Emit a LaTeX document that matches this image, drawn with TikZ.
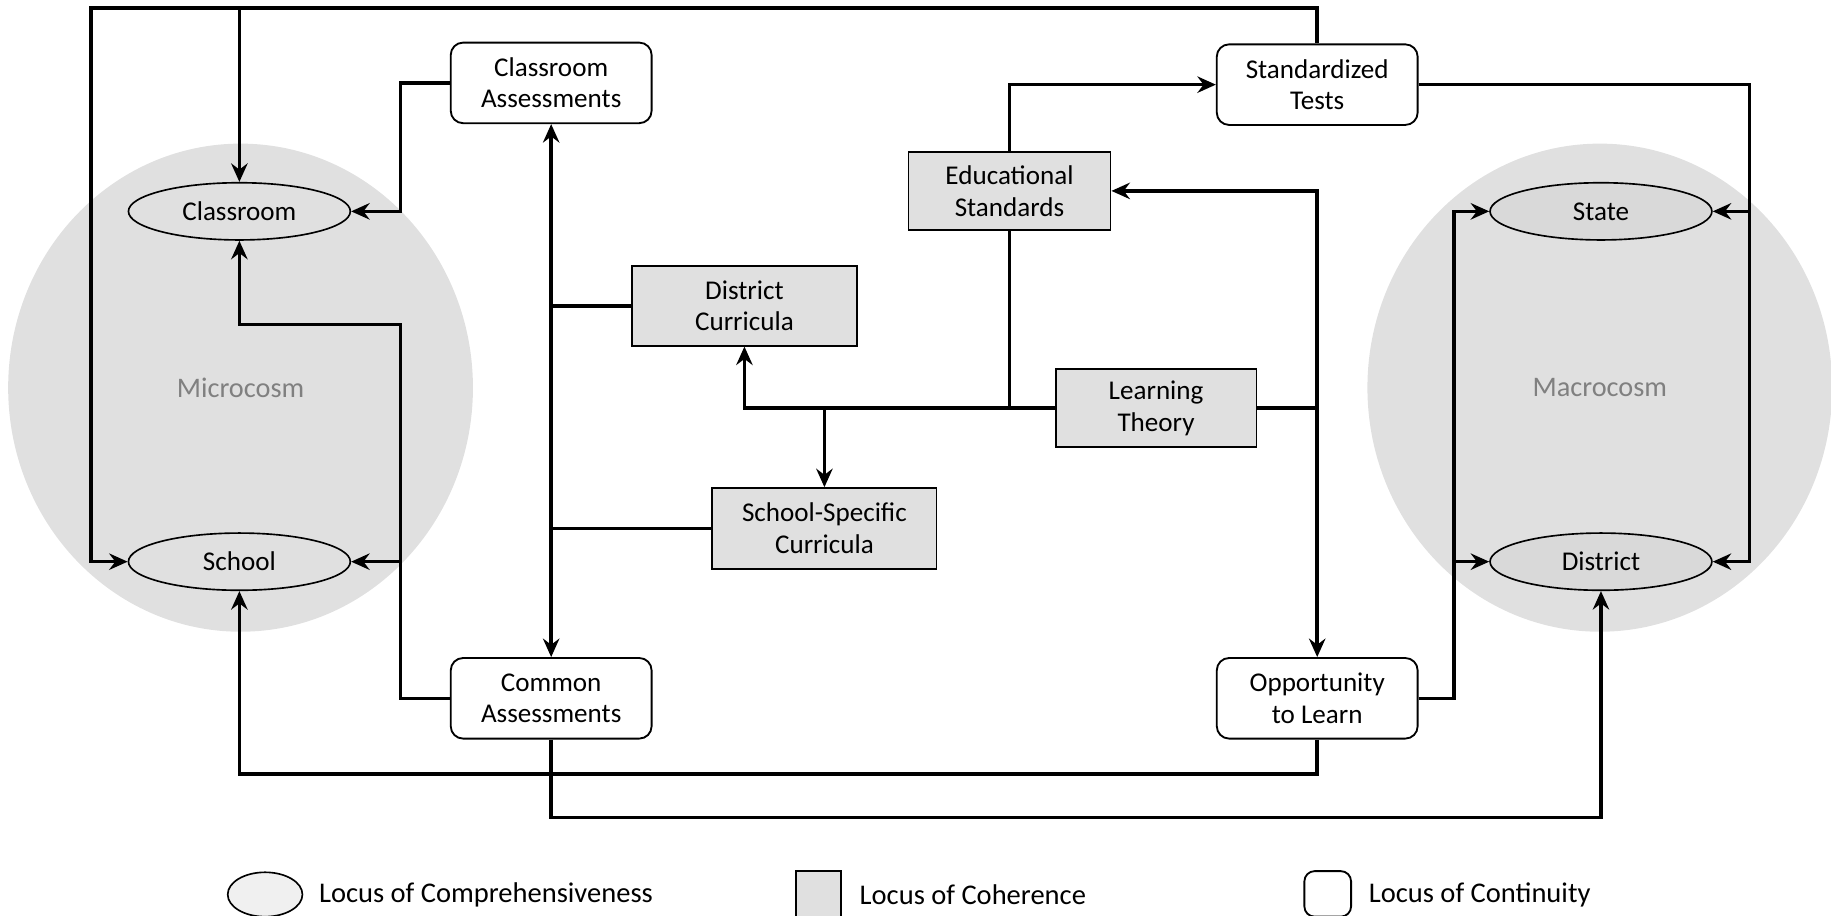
\documentclass[tikz,border=0pt]{standalone}
\usepackage{fontspec}
\setmainfont{Carlito}
\usetikzlibrary{arrows.meta,shapes.geometric}

\definecolor{cosmgray}{HTML}{E0E0E0}
\definecolor{locgray}{HTML}{D9D9D9}
\definecolor{boxgray}{HTML}{E0E0E0}
\definecolor{leggray}{HTML}{F0F0F0}

\begin{document}
\begin{tikzpicture}[
	every node/.style={font=\fontsize{13.2}{15.4}\selectfont, align=center},
	locus/.style={draw, ellipse, line width=0.8pt, minimum width=3.8cm, minimum height=0.98cm, inner sep=0pt},
	cohere/.style={draw, fill=boxgray, line width=0.9pt, inner sep=0pt},
	contin/.style={draw, fill=white, rounded corners=6pt, line width=0.9pt, minimum width=3.44cm, minimum height=1.38cm, inner sep=0pt},
	conn/.style={line width=1.7pt},
	arr/.style={conn, -{Stealth[length=9pt, width=8pt, inset=3pt]}},
	darr/.style={conn, {Stealth[length=9pt, width=8pt, inset=3pt]}-{Stealth[length=9pt, width=8pt, inset=3pt]}}
]
	\useasboundingbox (0,0) rectangle (31.36,15.68);

	% background regions
	\fill [cosmgray] (4.12,9.04) ellipse [x radius=3.98cm, y radius=4.18cm];
	\fill [cosmgray] (27.4,9.04) ellipse [x radius=3.98cm, y radius=4.18cm];
	\node [text=gray, font=\fontsize{13.8}{16}\selectfont] (micro) at (4.12,9.04) {Microcosm};
	\node [text=gray, font=\fontsize{13.8}{16}\selectfont] (macro) at (27.4,9.04) {Macrocosm};

	% loci of comprehensiveness
	\node [locus, fill=cosmgray] (classroom) at (4.1,12.06) {Classroom};
	\node [locus, fill=cosmgray] (school) at (4.1,6.06) {School};
	\node [locus, fill=locgray] (state) at (27.42,12.06) {State};
	\node [locus, fill=locgray] (district) at (27.42,6.06) {District};

	% loci of continuity
	\node [contin] (classass) at (9.44,14.26) {Classroom\\Assessments};
	\node [contin] (stdtests) at (22.56,14.23) {Standardized\\Tests};
	\node [contin] (commonass) at (9.44,3.72) {Common\\Assessments};
	\node [contin] (opport) at (22.56,3.72) {Opportunity\\to Learn};

	% loci of coherence
	\node [cohere, minimum width=3.46cm, minimum height=1.34cm] (edustd) at (17.29,12.41) {Educational\\Standards};
	\node [cohere, minimum width=3.86cm, minimum height=1.36cm] (distcurr) at (12.75,10.44) {District\\Curricula};
	\node [cohere, minimum width=3.44cm, minimum height=1.34cm] (learnth) at (19.8,8.69) {Learning\\Theory};
	\node [cohere, minimum width=3.84cm, minimum height=1.38cm] (schoolspec) at (14.12,6.63) {School-Specific\\Curricula};

	% bend points
	\coordinate (topleft) at (1.56,15.54);
	\coordinate (leftbus) at (6.86,10.12);
	\coordinate (rightbus) at (29.96,6.06);
	\coordinate (midbus) at (24.9,12.06);
	\coordinate (lowone) at (4.1,2.42);
	\coordinate (lowtwo) at (27.42,1.68);

	% connectors
	\draw [arr] (stdtests.north) |- (topleft) |- (school.west);
	\draw [arr] (classroom.north |- topleft) -- (classroom.north);
	\draw [arr] (classass.west) -- (classass.west -| leftbus) |- (classroom.east);
	\draw [arr] (commonass.west) -| (leftbus) -| (classroom.south);
	\draw [arr] (school.east -| leftbus) -- (school.east);
	\draw [darr] (classass.south) -- (commonass.north);
	\draw [conn] (distcurr.west -| classass.south) -- (distcurr.west);
	\draw [conn] (schoolspec.west -| classass.south) -- (schoolspec.west);
	\draw [arr] (learnth.west) -| (distcurr.south);
	\draw [arr] (schoolspec.north |- learnth.west) -- (schoolspec.north);
	\draw [conn] (edustd.south) -- (edustd.south |- learnth.west);
	\draw [arr] (edustd.north) |- (stdtests.west);
	\draw [arr] (learnth.east) -| (opport.north);
	\draw [arr] (learnth.east -| opport.north) |- (edustd.east);
	\draw [arr] (stdtests.east) -| (rightbus) -- (district.east);
	\draw [arr] (state.east -| rightbus) -- (state.east);
	\draw [arr] (opport.east) -| (midbus) -- (state.west);
	\draw [arr] (district.west -| midbus) -- (district.west);
	\draw [arr] (opport.south) |- (lowone) -- (school.south);
	\draw [arr] (commonass.south) |- (lowtwo) -- (district.south);

	% legend
	\node [draw, ellipse, fill=leggray, line width=0.8pt, minimum width=1.28cm, minimum height=0.76cm, inner sep=0pt] (legcomp) at (4.54,0.36) {};
	\node [anchor=west, font=\fontsize{13.9}{16}\selectfont] (legcomptxt) at (5.34,0.36) {Locus of Comprehensiveness};
	\node [draw, fill=boxgray, line width=0.9pt, minimum width=0.76cm, minimum height=0.78cm, inner sep=0pt] (legcoh) at (14.02,0.37) {};
	\node [anchor=west, font=\fontsize{13.9}{16}\selectfont] (legcohtxt) at (14.6,0.36) {Locus of Coherence};
	\node [draw, fill=white, rounded corners=5pt, line width=0.9pt, minimum width=0.8cm, minimum height=0.78cm, inner sep=0pt] (legcon) at (22.74,0.37) {};
	\node [anchor=west, font=\fontsize{13.9}{16}\selectfont] (legcontxt) at (23.32,0.36) {Locus of Continuity};
\end{tikzpicture}
\end{document}
